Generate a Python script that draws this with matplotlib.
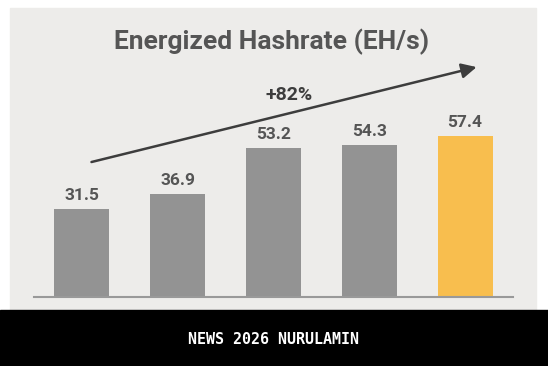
import matplotlib.pyplot as plt
from matplotlib.patches import Rectangle

# data
years = ["Q1", "Q2", "Q3", "Q4", "Q5"]
hashrate = [31.5, 36.9, 53.2, 54.3, 57.4]
bar_colors = ["#939393", "#939393", "#939393", "#939393", "#f8be4e"]
growth_label = "+82%"

W, H = 548, 366
fig = plt.figure(figsize=(W / 100, H / 100), dpi=100)
fig.patch.set_facecolor("white")

# grey panel + black footer band
fig.patches.append(Rectangle((10 / W, 56 / H), 526 / W, (310 - 8) / H,
                             transform=fig.transFigure, color="#edecea", zorder=-5))
fig.patches.append(Rectangle((0, 0), 1, 56 / H, transform=fig.transFigure,
                             color="black", zorder=-5))

ax = fig.add_axes([34 / W, 69 / H, (513 - 34) / W, (297 - 8) / H])
ax.set_zorder(5)
ax.set_facecolor("none")
x = range(len(hashrate))
ax.bar(x, hashrate, width=0.575, color=bar_colors, zorder=2)
ax.set_xlim(-0.5, 4.5)
ax.set_ylim(0, 103.2)

for s in ["top", "right", "left"]:
    ax.spines[s].set_visible(False)
ax.spines["bottom"].set_color("#999999")
ax.spines["bottom"].set_linewidth(1.5)
ax.set_xticks([])
ax.set_yticks([])

for i, v in enumerate(hashrate):
    ax.annotate(f"{v}", (i, v), xytext=(0, 6.5), textcoords="offset points",
                ha="center", va="baseline", fontsize=12.5, fontweight="bold",
                color="#555555", family="Roboto")

# growth arrow
ax.annotate("", xy=(4.12, 82.1), xytext=(0.10, 48.2),
            arrowprops=dict(arrowstyle="-|>,head_length=0.9,head_width=0.45",
                            color="#3d3d3d", lw=1.8, shrinkA=0, shrinkB=0))
ax.text(2.16, 72.1, growth_label, ha="center", va="center", fontsize=14,
        fontweight="bold", color="#3d3d3d", family="Roboto")

fig.text(272 / W, 1 - 42 / H, "Energized Hashrate (EH/s)", ha="center", va="center",
         fontsize=19, fontweight="bold", color="#555555", family="Roboto")

fig.text(273 / W, 1 - 339.5 / H, "NEWS 2026 NURULAMIN", ha="center", va="center",
         fontsize=10.8, fontweight="bold", color="white", family="DejaVu Sans Mono")

fig.savefig("out.png", dpi=100)
